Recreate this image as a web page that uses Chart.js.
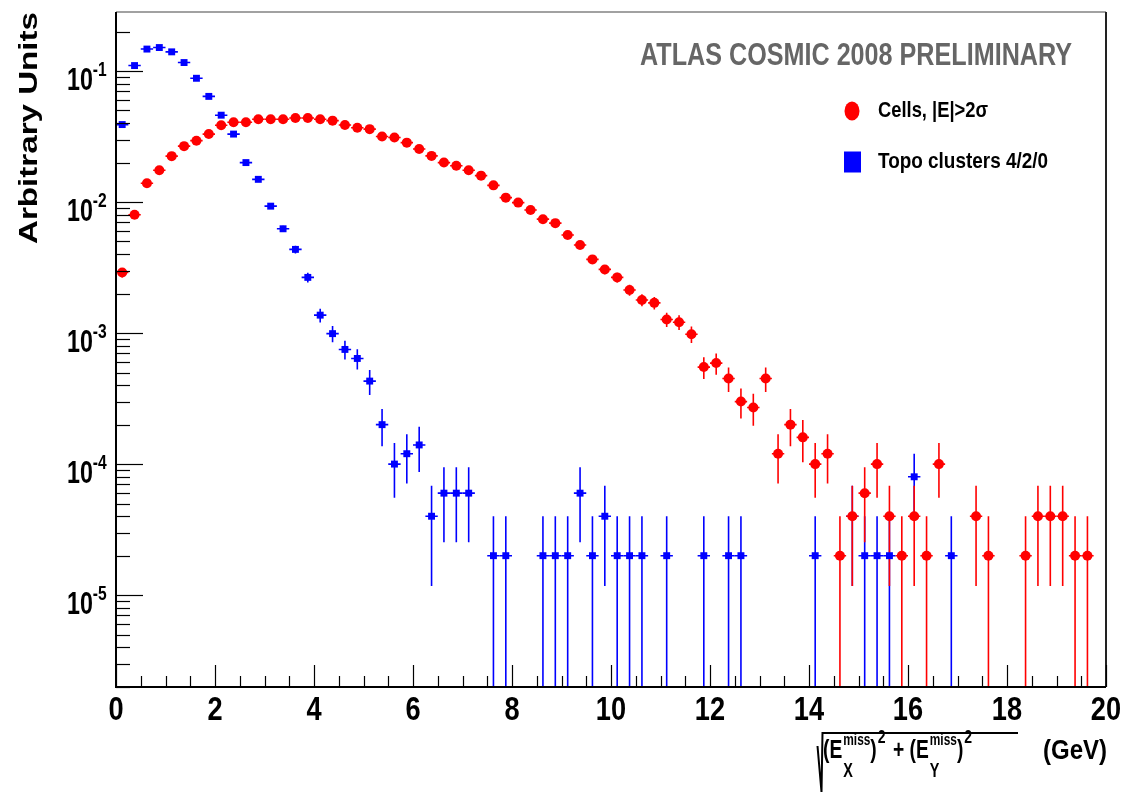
<!DOCTYPE html>
<html>
<head>
<meta charset="utf-8">
<script src="https://cdn.jsdelivr.net/npm/chart.js@4.4.0/dist/chart.umd.min.js"></script>
<style>
  html, body { margin: 0; padding: 0; background: #fff; }
  #wrap { width: 1126px; height: 792px; }
</style>
</head>
<body>
<div id="wrap"><canvas id="metChart" width="1126" height="792"></canvas></div>
<script>
// MET spectrum, cosmic run 2008 (bin width 0.25 GeV)
const binWidth = 0.25;
const binCenters = [
  0.125, 0.375, 0.625, 0.875, 1.125, 1.375, 1.625, 1.875,
  2.125, 2.375, 2.625, 2.875, 3.125, 3.375, 3.625, 3.875,
  4.125, 4.375, 4.625, 4.875, 5.125, 5.375, 5.625, 5.875,
  6.125, 6.375, 6.625, 6.875, 7.125, 7.375, 7.625, 7.875,
  8.125, 8.375, 8.625, 8.875, 9.125, 9.375, 9.625, 9.875,
  10.125, 10.375, 10.625, 10.875, 11.125, 11.375, 11.625, 11.875,
  12.125, 12.375, 12.625, 12.875, 13.125, 13.375, 13.625, 13.875,
  14.125, 14.375, 14.625, 14.875, 15.125, 15.375, 15.625, 15.875,
  16.125, 16.375, 16.625, 16.875, 17.125, 17.375, 17.625, 17.875,
  18.125, 18.375, 18.625, 18.875, 19.125, 19.375, 19.625, 19.875
];

// Cells, |E|>2sigma
const cellsValues = [
  2.9e-3, 8.0e-3, 1.39e-2, 1.75e-2, 2.24e-2, 2.67e-2, 2.94e-2, 3.30e-2,
  3.85e-2, 4.06e-2, 4.06e-2, 4.28e-2, 4.28e-2, 4.28e-2, 4.38e-2, 4.38e-2,
  4.28e-2, 4.18e-2, 3.87e-2, 3.69e-2, 3.60e-2, 3.16e-2, 3.11e-2, 2.84e-2,
  2.54e-2, 2.25e-2, 2.00e-2, 1.89e-2, 1.75e-2, 1.59e-2, 1.34e-2, 1.08e-2,
  9.9e-3, 8.7e-3, 7.4e-3, 6.9e-3, 5.6e-3, 4.7e-3, 3.65e-3, 3.06e-3,
  2.66e-3, 2.13e-3, 1.79e-3, 1.70e-3, 1.27e-3, 1.21e-3, 9.8e-4, 5.5e-4,
  5.9e-4, 4.5e-4, 3.0e-4, 2.7e-4, 4.5e-4, 1.2e-4, 2.0e-4, 1.6e-4,
  1.0e-4, 1.2e-4, 2e-5, 4e-5, 6e-5, 1.0e-4, 4e-5, 2e-5,
  4e-5, 2e-5, 1.0e-4, null, null, 4e-5, 2e-5, null,
  null, 2e-5, 4e-5, 4e-5, 4e-5, 2e-5, 2e-5, null
];

// Topo clusters 4/2/0
const topoValues = [
  3.9e-2, 0.110, 0.147, 0.151, 0.140, 0.116, 8.8e-2, 6.4e-2,
  4.6e-2, 3.3e-2, 2.0e-2, 1.49e-2, 9.3e-3, 6.25e-3, 4.35e-3, 2.66e-3,
  1.37e-3, 9.9e-4, 7.5e-4, 6.4e-4, 4.3e-4, 2.0e-4, 1.0e-4, 1.2e-4,
  1.4e-4, 4e-5, 6e-5, 6e-5, 6e-5, null, 2e-5, 2e-5,
  null, null, 2e-5, 2e-5, 2e-5, 6e-5, 2e-5, 4e-5,
  2e-5, 2e-5, 2e-5, null, 2e-5, null, null, 2e-5,
  null, 2e-5, 2e-5, null, null, null, null, null,
  2e-5, null, null, 4e-5, 2e-5, 2e-5, 2e-5, null,
  8e-5, null, null, 2e-5, null, null, null, null,
  null, null, null, null, null, null, null, null
];

// weight of a single entry after normalisation (errors are sqrt(N))
const entryWeight = 2e-5;

const seriesLabels = ['Cells, |E|>2σ', 'Topo clusters 4/2/0'];
const xTickLabels = ['0', '2', '4', '6', '8', '10', '12', '14', '16', '18', '20'];
const yTickExponents = ['-1', '-2', '-3', '-4', '-5'];
const chartTitle = 'ATLAS COSMIC 2008 PRELIMINARY';
const yAxisTitle = 'Arbitrary Units';

const FONT = '"Liberation Sans", Arial, Helvetica, sans-serif';
const RED = '#ff0000';
const BLUE = '#0000ff';

function toPoints(values) {
  const pts = [];
  values.forEach((v, i) => {
    if (v !== null) pts.push({ x: binCenters[i], y: v });
  });
  return pts;
}

// bold text squeezed horizontally like the original picture
function drawText(ctx, str, x, y, size, opts) {
  opts = opts || {};
  ctx.save();
  ctx.font = 'bold ' + size + 'px ' + FONT;
  ctx.fillStyle = opts.color || '#000';
  ctx.textBaseline = 'alphabetic';
  ctx.textAlign = opts.align || 'left';
  const w = ctx.measureText(str).width;
  let sx = opts.sx || 0.77;
  if (opts.width) sx = opts.width / w;
  ctx.translate(x, y);
  if (opts.rotate) ctx.rotate(opts.rotate);
  ctx.scale(sx, opts.sy || 1);
  ctx.fillText(str, 0, 0);
  ctx.restore();
  return w * sx;
}

const rootStyle = {
  id: 'rootStyle',
  beforeDatasetsDraw(chart) {
    const { ctx, chartArea: a } = chart;
    const xs = chart.scales.x, ys = chart.scales.y;
    ctx.save();
    ctx.beginPath();
    ctx.rect(a.left, a.top, a.right - a.left, a.bottom - a.top);
    ctx.clip();
    ctx.lineWidth = 1.6;
    // blue first, red on top
    [[topoValues, BLUE], [cellsValues, RED]].forEach(([vals, col]) => {
      ctx.strokeStyle = col;
      vals.forEach((v, i) => {
        if (v === null) return;
        const c = binCenters[i];
        const err = Math.sqrt(v * entryWeight);
        const lo = v - err;
        const px = xs.getPixelForValue(c);
        const py = ys.getPixelForValue(v);
        const yHi = ys.getPixelForValue(v + err);
        const yLo = lo > 1e-9 ? ys.getPixelForValue(lo) : a.bottom + 5;
        ctx.beginPath();
        ctx.moveTo(px, yLo);
        ctx.lineTo(px, yHi);
        ctx.moveTo(xs.getPixelForValue(c - binWidth / 2), py);
        ctx.lineTo(xs.getPixelForValue(c + binWidth / 2), py);
        ctx.stroke();
      });
    });
    ctx.restore();
  },
  afterDraw(chart) {
    const { ctx, chartArea: a } = chart;
    const xs = chart.scales.x, ys = chart.scales.y;
    ctx.save();

    // frame
    ctx.strokeStyle = '#444';
    ctx.lineWidth = 1.2;
    ctx.beginPath();
    ctx.moveTo(a.left, a.top);
    ctx.lineTo(a.right, a.top);
    ctx.stroke();
    ctx.strokeStyle = '#222';
    ctx.lineWidth = 2;
    ctx.beginPath();
    ctx.moveTo(a.right, a.top);
    ctx.lineTo(a.right, a.bottom);
    ctx.stroke();
    ctx.strokeStyle = '#000';
    ctx.lineWidth = 2;
    ctx.beginPath();
    ctx.moveTo(a.left, a.top);
    ctx.lineTo(a.left, a.bottom);
    ctx.lineTo(a.right, a.bottom);
    ctx.stroke();

    // x ticks (inward)
    ctx.lineWidth = 1.2;
    ctx.strokeStyle = '#000';
    for (let k = 0; k <= 40; k++) {
      const v = k * 0.5;
      const px = Math.round(xs.getPixelForValue(v)) + 0.5;
      const len = (k % 4 === 0) ? 22 : 11;
      ctx.beginPath();
      ctx.moveTo(px, a.bottom);
      ctx.lineTo(px, a.bottom - len);
      ctx.stroke();
    }
    xTickLabels.forEach((lab) => {
      const px = xs.getPixelForValue(parseFloat(lab));
      drawText(ctx, lab, px, 720, 34, { align: 'center', sx: 0.8 });
    });

    // y ticks (inward), log scale
    for (let e = -6; e <= -1; e++) {
      for (let m = 1; m <= 9; m++) {
        const v = m * Math.pow(10, e);
        if (v < ys.min || v > ys.max) continue;
        const py = Math.round(ys.getPixelForValue(v)) + 0.5;
        const len = m === 1 ? 27 : 14;
        ctx.beginPath();
        ctx.moveTo(a.left, py);
        ctx.lineTo(a.left + len, py);
        ctx.stroke();
      }
    }
    yTickExponents.forEach((ex) => {
      const py = ys.getPixelForValue(Math.pow(10, parseInt(ex, 10)));
      const w = drawText(ctx, '10', 67, py + 19, 31, { sx: 0.75 });
      drawText(ctx, ex, 67 + w, py + 5, 20, { sx: 0.78 });
    });

    // axis titles
    drawText(ctx, yAxisTitle, 37, 12, 33, { align: 'right', rotate: -Math.PI / 2, width: 232, sy: 0.77 });

    // sqrt((E_X^miss)^2 + (E_Y^miss)^2)  (GeV)
    const base = 758;
    ctx.lineWidth = 2;
    ctx.beginPath();
    ctx.moveTo(817.5, 746);
    ctx.lineTo(821.5, 792);
    ctx.lineTo(822.5, 733);
    ctx.lineTo(1018, 733);
    ctx.stroke();
    let cx = 823;
    cx += drawText(ctx, '(E', cx, base, 26, { sx: 0.74 });
    let sw = drawText(ctx, 'miss', cx + 1, base - 13, 17, { sx: 0.7 });
    drawText(ctx, 'X', cx + 1, base + 19, 20, { sx: 0.72 });
    cx += sw + 1;
    cx += drawText(ctx, ')', cx, base, 26, { sx: 0.74 });
    cx += drawText(ctx, '2', cx + 1, base - 15, 19, { sx: 0.74 }) + 3;
    cx += drawText(ctx, ' + (E', cx, base, 26, { sx: 0.74 });
    sw = drawText(ctx, 'miss', cx + 1, base - 13, 17, { sx: 0.7 });
    drawText(ctx, 'Y', cx + 1, base + 19, 20, { sx: 0.72 });
    cx += sw + 1;
    cx += drawText(ctx, ')', cx, base, 26, { sx: 0.74 });
    drawText(ctx, '2', cx + 1, base - 15, 19, { sx: 0.74 });
    drawText(ctx, '(GeV)', 1107, base + 1, 27, { align: 'right', width: 64 });

    // title
    drawText(ctx, chartTitle, 640, 65, 32, { width: 432, color: '#666' });

    // legend
    ctx.fillStyle = RED;
    ctx.beginPath();
    ctx.ellipse(852, 111, 7.5, 9.5, 0, 0, Math.PI * 2);
    ctx.fill();
    drawText(ctx, seriesLabels[0], 878, 117, 22, { width: 110 });
    ctx.fillStyle = BLUE;
    ctx.fillRect(844, 151.5, 17, 21);
    drawText(ctx, seriesLabels[1], 878, 168, 22, { width: 170 });

    ctx.restore();
  }
};

const ctx = document.getElementById('metChart').getContext('2d');
const metChart = new Chart(ctx, {
  type: 'scatter',
  data: {
    datasets: [
      {
        label: seriesLabels[0],
        data: toPoints(cellsValues),
        pointStyle: 'circle',
        pointRadius: 5,
        backgroundColor: RED,
        borderColor: RED,
        borderWidth: 0
      },
      {
        label: seriesLabels[1],
        data: toPoints(topoValues),
        pointStyle: 'rect',
        pointRadius: 4.9,
        backgroundColor: BLUE,
        borderColor: BLUE,
        borderWidth: 0
      }
    ]
  },
  options: {
    responsive: false,
    animation: false,
    devicePixelRatio: 1,
    events: [],
    layout: { padding: { left: 116, right: 20, top: 12, bottom: 105 } },
    scales: {
      x: { type: 'linear', min: 0, max: 20, display: false },
      y: { type: 'logarithmic', min: 1.99e-6, max: 0.282, display: false }
    },
    plugins: {
      legend: { display: false },
      tooltip: { enabled: false },
      title: { display: false }
    }
  },
  plugins: [rootStyle]
});
</script>
</body>
</html>
